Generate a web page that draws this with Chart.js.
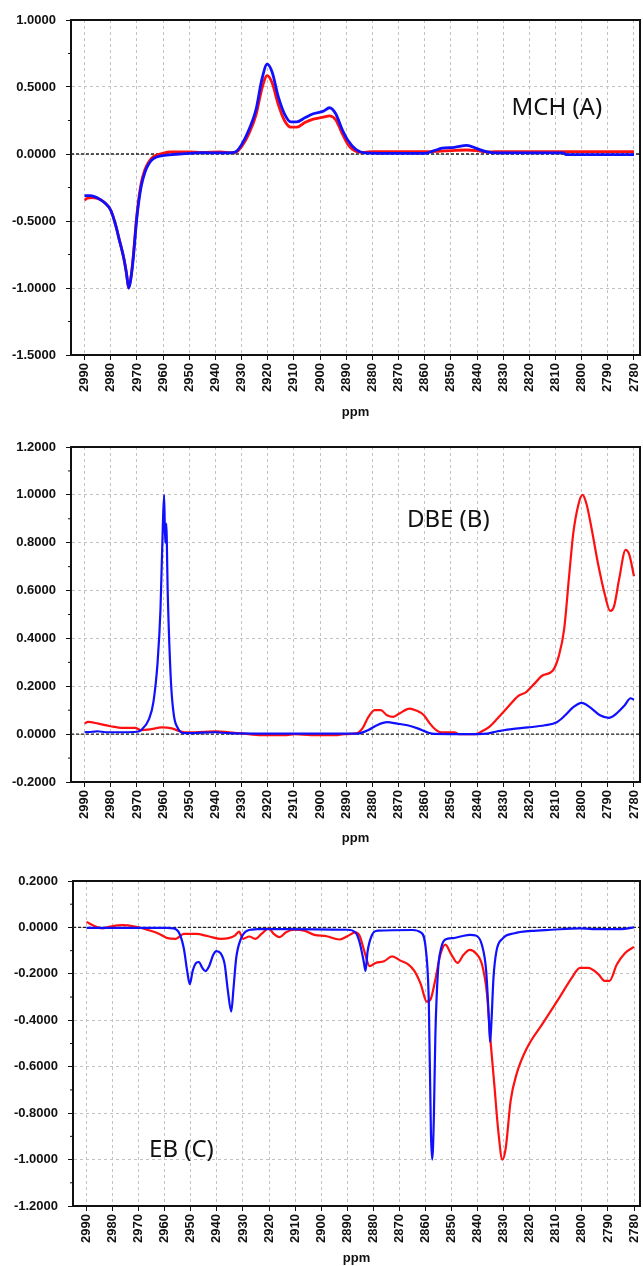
<!DOCTYPE html>
<html>
<head>
<meta charset="utf-8">
<script src="https://cdn.jsdelivr.net/npm/chart.js@4.4.0/dist/chart.umd.min.js"></script>
<style>
  html, body { margin: 0; padding: 0; background: #fff; overflow: hidden; }
  canvas { position: absolute; left: 0; }
</style>
</head>
<body>
<canvas id="mch_graph" width="643" height="420" style="top:0px"></canvas>
<canvas id="dbe_graph" width="643" height="419" style="top:427px"></canvas>
<canvas id="eb_graph" width="643" height="405" style="top:861px"></canvas>
<script>
// x axis ticks (ppm), shared by all three panels
const ppmTicks = [2990, 2980, 2970, 2960, 2950, 2940, 2930, 2920, 2910, 2900, 2890,
  2880, 2870, 2860, 2850, 2840, 2830, 2820, 2810, 2800, 2790, 2780];

// --- MCH (A) ---
const mchYTicks = [-1.5, -1.0, -0.5, 0.0, 0.5, 1.0];
const mchBluePpm = [2990, 2988, 2986, 2984, 2982, 2980, 2978, 2977, 2975, 2974, 2973.1, 2972.3,
  2971.5, 2970, 2968.4, 2967, 2965.5, 2963.7, 2960.2, 2955, 2950, 2945, 2940, 2935, 2932.4,
  2930, 2927, 2924.5, 2922.2, 2920.2, 2918.3, 2916, 2913.6, 2911.2, 2908.9, 2905.8, 2902.6,
  2898.7, 2896.4, 2894, 2891.7, 2889.3, 2886.2, 2883, 2875, 2860, 2856.4, 2853.3, 2848.6,
  2843.9, 2840, 2836.1, 2833, 2820, 2807, 2806, 2780];
const mchBlueVal = [-0.31, -0.31, -0.32, -0.34, -0.37, -0.42, -0.54, -0.62, -0.78, -0.89, -1.0, -0.93,
  -0.80, -0.47, -0.245, -0.14, -0.075, -0.035, -0.012, -0.002, 0.005, 0.01, 0.008, 0.008, 0.015,
  0.07, 0.19, 0.33, 0.56, 0.67, 0.61, 0.43, 0.30, 0.24, 0.24, 0.27, 0.30,
  0.32, 0.345, 0.30, 0.19, 0.10, 0.032, 0.008, 0.005, 0.005, 0.025, 0.043, 0.05,
  0.065, 0.04, 0.015, 0.008, 0.008, 0.008, -0.004, -0.005];
const mchRedPpm = [2990, 2989, 2987, 2984, 2982, 2980, 2978, 2977, 2975, 2974, 2973.2, 2972.3,
  2971.5, 2970, 2968.4, 2967, 2965.5, 2963.7, 2960.2, 2957, 2950, 2945, 2938, 2934, 2932.4,
  2930, 2927, 2924.5, 2922.2, 2920.2, 2918.3, 2916, 2913.6, 2911.2, 2908.9, 2905.8, 2902.6,
  2898.7, 2896.4, 2894, 2891.7, 2889.3, 2886.2, 2883, 2880, 2860, 2855, 2850, 2844, 2840,
  2836, 2833, 2780];
const mchRedVal = [-0.345, -0.33, -0.325, -0.34, -0.37, -0.42, -0.54, -0.62, -0.78, -0.89, -1.0, -0.92,
  -0.78, -0.45, -0.22, -0.12, -0.06, -0.02, 0.005, 0.015, 0.015, 0.012, 0.015, 0.01, 0.012,
  0.055, 0.16, 0.29, 0.49, 0.585, 0.53, 0.37, 0.25, 0.20, 0.20, 0.235, 0.26,
  0.275, 0.285, 0.255, 0.16, 0.07, 0.02, 0.012, 0.018, 0.018, 0.02, 0.025, 0.03, 0.025,
  0.015, 0.018, 0.018];

// --- DBE (B) ---
const dbeYTicks = [-0.2, 0.0, 0.2, 0.4, 0.6, 0.8, 1.0, 1.2];
const dbeBluePpm = [2990, 2987, 2985, 2982, 2975, 2970, 2968.4, 2965.3, 2963.7, 2962.1, 2961, 2960.1,
  2959.6, 2959.2, 2958.8, 2958.2, 2957, 2955.9, 2954.3, 2952, 2945, 2940, 2935, 2920, 2900,
  2886, 2884.6, 2881.5, 2878.3, 2874.4, 2870.5, 2866.6, 2862.7, 2858.8, 2856.4, 2840, 2836.1,
  2832.2, 2826.7, 2820.5, 2814.1, 2809.5, 2806.3, 2803.2, 2800, 2796.9, 2793, 2789.6, 2786.7,
  2783.6, 2781.3, 2780];
const dbeBlueVal = [0.008, 0.01, 0.012, 0.008, 0.008, 0.01, 0.017, 0.065, 0.134, 0.30, 0.52, 0.87,
  1.0, 0.80, 0.88, 0.58, 0.22, 0.08, 0.024, 0.004, 0.006, 0.008, 0.004, 0.002, 0.002,
  0.002, 0.004, 0.017, 0.037, 0.05, 0.044, 0.037, 0.024, 0.007, 0.001, 0.0, 0.002,
  0.012, 0.021, 0.028, 0.037, 0.05, 0.079, 0.113, 0.131, 0.113, 0.079, 0.068, 0.086,
  0.12, 0.15, 0.144];
const dbeRedPpm = [2990, 2988.7, 2984.8, 2980.1, 2975.4, 2970.7, 2968.4, 2964.5, 2960.6, 2956.7,
  2953.5, 2950.4, 2944.1, 2939.4, 2934.7, 2930, 2922.2, 2912.8, 2909.7, 2903.4, 2894, 2890.9,
  2886.2, 2883.8, 2881.5, 2879.1, 2876.8, 2874.4, 2872, 2869.7, 2865.8, 2863.5, 2860.3, 2858,
  2855.6, 2853.3, 2848.6, 2847, 2840.8, 2838.4, 2835.3, 2832.2, 2828.2, 2824.3, 2821.2, 2818.1,
  2815, 2811, 2808.7, 2806.7, 2804.8, 2803.2, 2801.3, 2799.7, 2798.2, 2796.1, 2793.8, 2791,
  2789.1, 2787.6, 2785.7, 2783.2, 2781.8, 2780];
const dbeRedVal = [0.044, 0.051, 0.044, 0.033, 0.026, 0.026, 0.017, 0.021, 0.028, 0.024,
  0.012, 0.007, 0.01, 0.012, 0.007, 0.003, -0.004, -0.004, 0.0, -0.004, -0.004, 0.0,
  0.003, 0.024, 0.072, 0.10, 0.10, 0.079, 0.072, 0.086, 0.107, 0.10, 0.079, 0.044,
  0.017, 0.007, 0.007, 0.0, 0.0, 0.01, 0.03, 0.065, 0.113, 0.159, 0.176, 0.21,
  0.245, 0.266, 0.328, 0.438, 0.66, 0.84, 0.957, 1.0, 0.964, 0.853, 0.715, 0.577,
  0.515, 0.535, 0.646, 0.77, 0.75, 0.66];

// --- EB (C) ---
const ebYTicks = [-1.2, -1.0, -0.8, -0.6, -0.4, -0.2, 0.0, 0.2];
const ebBluePpm = [2990, 2975, 2959, 2956.6, 2954.3, 2952.7, 2951.4, 2950.4, 2949.3, 2948, 2946.9,
  2945.6, 2944.4, 2943, 2941.4, 2940.2, 2938.6, 2937, 2935.8, 2934.5, 2933.6, 2932.6, 2930.8,
  2928.4, 2924.5, 2913.5, 2890, 2886.9, 2885.3, 2883.7, 2883, 2882.2, 2880.6, 2878.3, 2865,
  2861.8, 2859.9, 2858.7, 2857.9, 2857.4, 2856.8, 2856.2, 2855.2, 2854, 2852.4, 2849.3, 2846.1,
  2843, 2840.7, 2838.3, 2836.7, 2835.6, 2835.2, 2834.7, 2833.9, 2832.8, 2830.5, 2825.8, 2819.5,
  2811.7, 2800.7, 2796, 2785, 2780];
const ebBlueVal = [-0.002, -0.002, -0.002, -0.004, -0.028, -0.09, -0.188, -0.244, -0.188, -0.153, -0.149,
  -0.174, -0.188, -0.167, -0.118, -0.102, -0.111, -0.16, -0.272, -0.362, -0.258, -0.132, -0.049,
  -0.014, -0.007, -0.007, -0.01, -0.021, -0.063, -0.146, -0.188, -0.104, -0.035, -0.014, -0.011,
  -0.021, -0.09, -0.327, -0.885, -1.0, -0.83, -0.467, -0.188, -0.09, -0.052, -0.046, -0.038,
  -0.032, -0.035, -0.077, -0.188, -0.41, -0.494, -0.41, -0.216, -0.104, -0.049, -0.025, -0.015,
  -0.01, -0.004, -0.007, -0.007, 0.0];
const ebRedPpm = [2990, 2987.2, 2984, 2980.9, 2976.2, 2971.5, 2966.8, 2962.1, 2959, 2955.8, 2952.7,
  2948, 2943.3, 2938.6, 2935.5, 2933.1, 2931.5, 2930, 2927.6, 2925.3, 2922.9, 2920.1, 2918.2,
  2915.9, 2913.5, 2910.4, 2906.5, 2902.6, 2897.9, 2893.1, 2890, 2886.9, 2885.3, 2883.4, 2881.4,
  2879.1, 2875.9, 2872.8, 2869.6, 2866.5, 2864.2, 2861.8, 2859.5, 2857.9, 2856.3, 2854.3, 2852.4,
  2850, 2847.7, 2845.4, 2843, 2840.7, 2838.3, 2836.4, 2835.2, 2833.6, 2832, 2830.5, 2829.2,
  2827.3, 2825, 2821.1, 2814.8, 2808.5, 2803.8, 2800.7, 2797.6, 2793.6, 2791.3, 2789.4, 2786.6,
  2783.5, 2780];
const ebRedVal = [0.024, 0.007, -0.004, 0.004, 0.01, 0.004, -0.01, -0.028, -0.046, -0.049, -0.028,
  -0.028, -0.038, -0.049, -0.046, -0.035, -0.018, -0.049, -0.039, -0.049, -0.028, -0.004, -0.028,
  -0.042, -0.021, -0.01, -0.014, -0.032, -0.038, -0.052, -0.038, -0.021, -0.035, -0.104, -0.167,
  -0.153, -0.146, -0.125, -0.143, -0.16, -0.188, -0.244, -0.32, -0.306, -0.23, -0.118, -0.074,
  -0.118, -0.153, -0.118, -0.097, -0.111, -0.16, -0.286, -0.467, -0.675, -0.884, -1.0, -0.95,
  -0.745, -0.63, -0.52, -0.41, -0.3, -0.216, -0.174, -0.174, -0.202, -0.23, -0.23, -0.16,
  -0.111, -0.084];

const toPoints = (xs, ys) => xs.map((x, i) => ({ x: x, y: ys[i] }));

const panelConfig = [
  {
    htmlId: "mch_graph",
    jsName: "mch_graph",
    yMin: -1.5, yMax: 1.0, yTicks: mchYTicks,
    yWidth: 71, xHeight: 65,
    lineWidth: 2.8,
    blue: toPoints(mchBluePpm, mchBlueVal),
    red: toPoints(mchRedPpm, mchRedVal),
    label: "MCH (A)", labelPpm: 2809.5, labelVal: 0.345,
  },
  {
    htmlId: "dbe_graph",
    jsName: "dbe_graph",
    yMin: -0.2, yMax: 1.2, yTicks: dbeYTicks,
    yWidth: 71, xHeight: 64,
    lineWidth: 2.2,
    blue: toPoints(dbeBluePpm, dbeBlueVal),
    red: toPoints(dbeRedPpm, dbeRedVal),
    label: "DBE (B)", labelPpm: 2851, labelVal: 0.895,
  },
  {
    htmlId: "eb_graph",
    jsName: "eb_graph",
    yMin: -1.2, yMax: 0.2, yTicks: ebYTicks,
    yWidth: 73, xHeight: 60,
    lineWidth: 2.2,
    blue: toPoints(ebBluePpm, ebBlueVal),
    red: toPoints(ebRedPpm, ebRedVal),
    label: "EB (C)", labelPpm: 2953.6, labelVal: -0.96,
  },
];

// zero line, frame, minor y ticks and the panel caption
const panelDecor = {
  id: "panelDecor",
  beforeDatasetsDraw(chart) {
    const { ctx, chartArea, scales } = chart;
    const y0 = scales.y.getPixelForValue(0);
    ctx.save();
    ctx.strokeStyle = "#222";
    ctx.lineWidth = 1.3;
    ctx.setLineDash([3, 2]);
    ctx.beginPath();
    ctx.moveTo(chartArea.left, y0);
    ctx.lineTo(chartArea.right, y0);
    ctx.stroke();
    ctx.restore();
  },
  afterDraw(chart, args, opts) {
    const { ctx, chartArea, scales } = chart;
    ctx.save();
    ctx.strokeStyle = "#111";
    ctx.lineWidth = 2;
    ctx.beginPath();
    ctx.moveTo(chartArea.left, chartArea.top);
    ctx.lineTo(chartArea.right, chartArea.top);
    ctx.lineTo(chartArea.right, chartArea.bottom);
    ctx.stroke();
    // minor ticks half way between y labels
    ctx.lineWidth = 1;
    const t = opts.yTicks;
    for (let i = 0; i < t.length - 1; i++) {
      const py = scales.y.getPixelForValue((t[i] + t[i + 1]) / 2);
      ctx.beginPath();
      ctx.moveTo(chartArea.left - 3, py);
      ctx.lineTo(chartArea.left, py);
      ctx.stroke();
    }
    ctx.fillStyle = "#111";
    ctx.font = '24px "Noto Sans"';
    ctx.textAlign = "center";
    ctx.textBaseline = "middle";
    ctx.fillText(opts.label, scales.x.getPixelForValue(opts.labelPpm), scales.y.getPixelForValue(opts.labelVal));
    ctx.restore();
  },
};

Chart.defaults.font.family = "'Liberation Sans', Arial, sans-serif";

panelConfig.forEach((config) => {
  window[config.jsName] = new Chart(document.getElementById(config.htmlId), {
    type: "line",
    data: {
      datasets: [
        {
          data: config.blue,
          borderColor: "#1010ff",
          borderWidth: config.lineWidth,
          cubicInterpolationMode: "monotone",
          fill: false,
        },
        {
          data: config.red,
          borderColor: "#ff1010",
          borderWidth: config.lineWidth,
          cubicInterpolationMode: "monotone",
          fill: false,
        },
      ],
    },
    options: {
      responsive: false,
      animation: false,
      layout: { padding: { top: 20, right: 3, left: 0, bottom: 0 } },
      elements: { point: { radius: 0 } },
      plugins: {
        legend: { display: false },
        tooltip: { enabled: false },
        panelDecor: {
          label: config.label,
          labelPpm: config.labelPpm,
          labelVal: config.labelVal,
          yTicks: config.yTicks,
        },
      },
      scales: {
        x: {
          type: "linear",
          reverse: true,
          min: 2777.7,
          max: 2995.2,
          afterBuildTicks: (scale) => {
            scale.ticks = ppmTicks.map((v) => ({ value: v }));
          },
          afterFit: (scale) => {
            scale.height = config.xHeight;
            scale.paddingLeft = 0;
            scale.paddingRight = 0;
          },
          ticks: {
            autoSkip: false,
            minRotation: 90,
            maxRotation: 90,
            padding: 3,
            color: "#111",
            font: { size: 13, weight: "bold" },
            callback: (v) => String(v),
          },
          grid: { color: "#c2c2c2", tickLength: 5, tickColor: "#111", tickBorderDash: [] },
          border: { color: "#111", width: 2, dash: [3, 3] },
          title: {
            display: true,
            text: "ppm",
            color: "#111",
            padding: 0,
            font: { size: 13, weight: "bold" },
          },
        },
        y: {
          min: config.yMin,
          max: config.yMax,
          afterBuildTicks: (scale) => {
            scale.ticks = config.yTicks.map((v) => ({ value: v }));
          },
          afterFit: (scale) => {
            scale.width = config.yWidth;
          },
          ticks: {
            padding: 10,
            color: "#111",
            font: { size: 13, weight: "bold" },
            callback: (v) => (Math.abs(v) < 1e-9 ? 0 : v).toFixed(4),
          },
          grid: { color: "#c2c2c2", tickLength: 5, tickColor: "#111", tickBorderDash: [] },
          border: { color: "#111", width: 2, dash: [3, 3] },
        },
      },
    },
    plugins: [panelDecor],
  });
});
</script>
</body>
</html>
